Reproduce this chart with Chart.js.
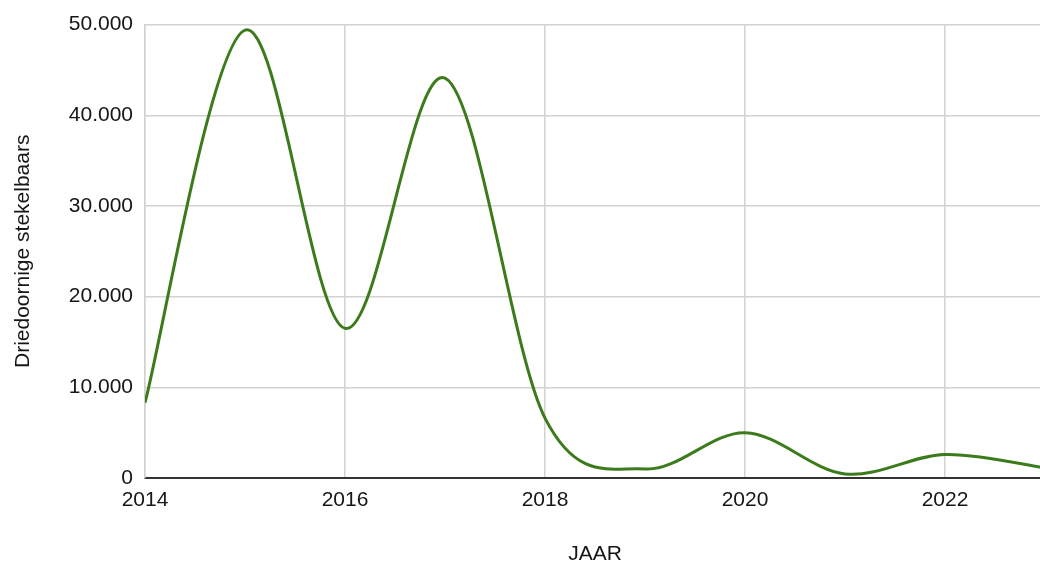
<!DOCTYPE html>
<html>
<head>
<meta charset="utf-8">
<script src="https://cdn.jsdelivr.net/npm/chart.js@4/dist/chart.umd.min.js"></script>
<style>
  html, body { margin: 0; padding: 0; background: #fff; overflow: hidden; }
  #wrap { width: 1045px; height: 563px; position: relative; }
</style>
</head>
<body>
<div id="wrap"><canvas id="c"></canvas></div>
<script>
// Jaarlijkse tellingen driedoornige stekelbaars
const years = [2014, 2015, 2016, 2017, 2018, 2019, 2020, 2021, 2022, 2023];
const counts = [8300, 49400, 16500, 44100, 6600, 1000, 5000, 450, 2600, 1100];
const yTicks = [0, 10000, 20000, 30000, 40000, 50000];
const xTicks = [2014, 2016, 2018, 2020, 2022];

const fmt = v => String(v).replace(/\B(?=(\d{3})+(?!\d))/g, '.');

// Uniform (Catmull-Rom style) spline: control points from the neighbouring
// data points, independent of segment lengths.
const uniformSpline = {
  id: 'uniformSpline',
  beforeDatasetDraw(chart, args) {
    const meta = args.meta;
    meta.dataset.updateControlPoints(chart.chartArea, 'x');
    const pts = meta.data;
    const k = 1 / 6;
    for (let i = 0; i < pts.length; i++) {
      const p = pts[i];
      const prev = pts[i - 1] || p;
      const next = pts[i + 1] || p;
      const dx = (next.x - prev.x) * k;
      const dy = (next.y - prev.y) * k;
      p.cp1x = p.x - dx; p.cp1y = p.y - dy;
      p.cp2x = p.x + dx; p.cp2y = p.y + dy;
    }
  }
};

Chart.defaults.font.family = '"Liberation Sans", Arial, Helvetica, sans-serif';
Chart.defaults.color = '#161616';

new Chart(document.getElementById('c'), {
  type: 'line',
  plugins: [uniformSpline],
  data: {
    datasets: [{
      data: years.map((y, i) => ({ x: y, y: counts[i] })),
      borderColor: '#3c7b1c',
      borderWidth: 3,
      pointRadius: 0,
      tension: 0.4,
      fill: false
    }]
  },
  options: {
    responsive: true,
    maintainAspectRatio: false,
    animation: false,
    layout: { padding: { top: 22, right: 0, bottom: 0, left: 0 } },
    plugins: { legend: { display: false }, tooltip: { enabled: false } },
    scales: {
      x: {
        type: 'linear',
        min: 2014,
        max: 2023,
        afterBuildTicks: s => { s.ticks = xTicks.map(v => ({ value: v })); },
        afterFit: s => { s.height = 85; },
        ticks: {
          includeBounds: false,
          padding: 10,
          maxRotation: 0,
          font: { size: 21 },
          callback: v => String(v)
        },
        grid: { color: '#d2d2d2', lineWidth: 1.5, drawTicks: false },
        border: { color: '#333', width: 2 },
        title: {
          display: true,
          text: 'JAAR',
          font: { size: 21, lineHeight: 1 },
          padding: { top: 0, bottom: -2 }
        }
      },
      y: {
        min: 0,
        max: 50000,
        afterBuildTicks: s => { s.ticks = yTicks.map(v => ({ value: v })); },
        afterFit: s => { s.width = 145; },
        ticks: {
          padding: 12,
          font: { size: 21 },
          callback: v => fmt(v)
        },
        grid: { color: '#d2d2d2', lineWidth: 1.5, drawTicks: false },
        border: { color: '#d2d2d2', width: 1.5 },
        title: {
          display: true,
          text: 'Driedoornige stekelbaars',
          font: { size: 21, lineHeight: 1 },
          padding: { top: 13, bottom: 0 }
        }
      }
    }
  }
});
</script>
</body>
</html>
